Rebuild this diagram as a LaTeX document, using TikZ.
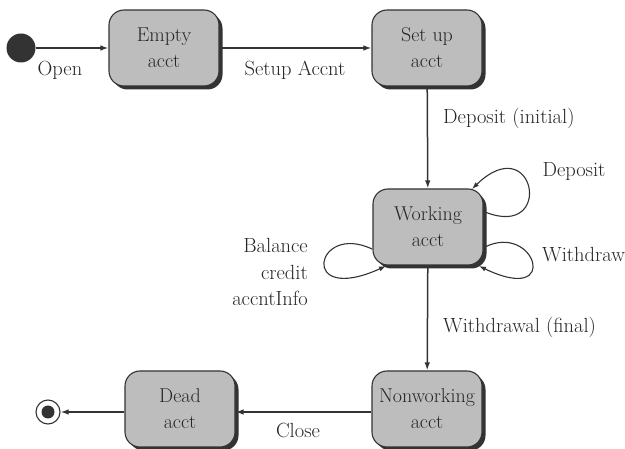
\documentclass[tikz,border=0pt]{standalone}
\usetikzlibrary{arrows.meta,shadows}
\definecolor{boxfill}{HTML}{BDBDBD}
\definecolor{ink}{HTML}{333333}
\definecolor{txt}{HTML}{262626}
\begin{document}
\begin{tikzpicture}[x=1pt,y=-1pt,
  state/.style={draw=ink, line width=1.1pt, fill=boxfill, rounded corners=15pt,
    minimum width=110pt, minimum height=76pt, inner sep=0pt, align=center,
    text=txt, font=\fontsize{20}{26}\selectfont,
    drop shadow={shadow xshift=3.5pt, shadow yshift=-3.5pt, fill=ink, opacity=1}},
  lbl/.style={font=\fontsize{20.5}{26.5}\selectfont, inner sep=0pt, text=txt},
  conn/.style={draw=ink, line width=1.5pt, -{Latex[length=8pt,width=5.5pt]}},
  loopc/.style={draw=ink, line width=1.1pt, -{Latex[length=7pt,width=5pt]}}]
\useasboundingbox[fill=white] (0,0) rectangle (625,449);

\node[circle, fill=ink, minimum size=29pt, inner sep=0pt] (init) at (21,48) {};
\node[state] (empty) at (164,48) {Empty\\acct};
\node[state] (setup) at (427,48) {Set up\\acct};
\node[state] (working) at (428,227) {Working\\acct};
\node[state] (nonworking) at (427,409) {Nonworking\\acct};
\node[state] (dead) at (180,409) {Dead\\acct};
\node[circle, draw=ink, line width=1.1pt, fill=white, minimum size=24pt, inner sep=0pt] (final) at (48,412) {};
\node[circle, fill=ink, minimum size=13pt, inner sep=0pt] at (final) {};

\draw[conn] (init) -- (empty);
\draw[conn] (empty) -- (setup);
\draw[conn] (setup) -- (working);
\draw[conn] (working) -- (nonworking);
\draw[conn] (nonworking.west |- final) -- (dead.east |- final);
\draw[conn] (dead.west |- final) -- (final);

% self loops
\coordinate (d1) at (485,212);
\coordinate (d2) at (472,189);
\draw[loopc] (d1) .. controls (555,240) and (535,128) .. (d2);
\coordinate (w1) at (485,247);
\coordinate (w2) at (479,266);
\draw[loopc] (w1) .. controls (535,222) and (562,306) .. (w2);
\coordinate (b1) at (372,249);
\coordinate (b2) at (386,266);
\draw[loopc] (b1) .. controls (315,222) and (298,306) .. (b2);

\node[lbl] (lopen) at (60,70) {Open};
\node[lbl] (lsetup) at (295,70) {Setup Accnt};
\node[lbl, anchor=west] (ldepi) at (443,118) {Deposit (initial)};
\node[lbl] (ldep) at (574,172) {Deposit};
\node[lbl, anchor=west] (lwd) at (542,255) {Withdraw};
\node[lbl, anchor=east, align=right] (lbal) at (308,272) {Balance\\credit\\accntInfo};
\node[lbl, anchor=west] (lwdf) at (443,327) {Withdrawal (final)};
\node[lbl] (lclose) at (298,431) {Close};
\end{tikzpicture}
\end{document}
